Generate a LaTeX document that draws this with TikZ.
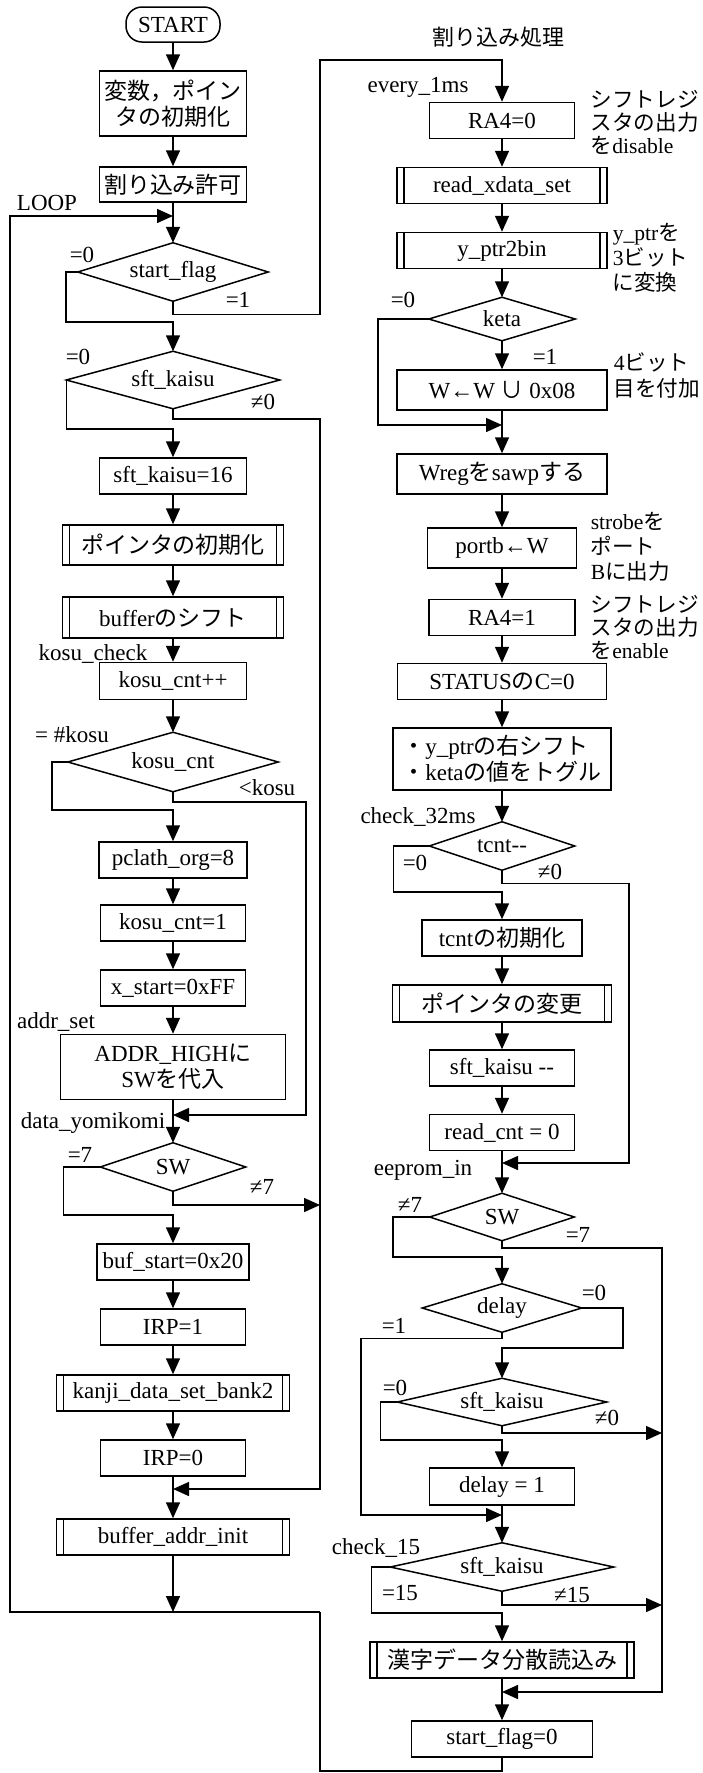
\documentclass[tikz,border=0pt]{standalone}
\usepackage{fontspec}
\setmainfont{Liberation Serif}
\newfontfamily\jpfont{Noto Sans CJK JP}
\newcommand\jp[1]{{\jpfont #1}}
\usetikzlibrary{arrows.meta,calc}
\newcommand\decnode[5]{\node[dtext={#3}{#4}] (#1) at (#2) {#5};
  \draw (#1.north) -- (#1.east) -- (#1.south) -- (#1.west) -- cycle;}
\begin{document}
\begin{tikzpicture}[x=0.5pt,y=-0.5pt,line width=0.75pt,
  base/.style={font=\fontsize{11.5}{13}\selectfont, inner sep=0pt, align=center},
  box/.style 2 args={base, draw, rectangle, minimum width=#1*0.5pt, minimum height=#2*0.5pt},
  subr/.style 2 args={box={#1}{#2}, path picture={
    \draw ([xshift=3.5pt]path picture bounding box.north west) -- ([xshift=3.5pt]path picture bounding box.south west)
          ([xshift=-3.5pt]path picture bounding box.north east) -- ([xshift=-3.5pt]path picture bounding box.south east);}},
  dtext/.style 2 args={base, minimum width=#1*0.5pt, minimum height=#2*0.5pt},
  startbox/.style={box={94}{35}, rounded corners=8pt},
  lbl/.style={base},
  ann/.style={font=\fontsize{10.8}{11.5}\selectfont, inner sep=0pt, align=left, anchor=west},
  arr/.style={-{Triangle[width=7pt,length=8pt]}}]
\useasboundingbox (0,0) rectangle (702,1773);

% ---------------- left column ----------------
\node[startbox] (start) at (173,24.5) {START};
\node[box={147}{65}] (init) at (173,103.5) {\jp{変数，ポイン}\\\jp{タの初期化}};
\node[box={147}{35}] (intr) at (173,184.5) {\jp{割り込み許可}};
\decnode{d1}{173,272}{189}{57}{start\_flag}
\decnode{d2}{173,380}{212}{56}{sft\_kaisu}
\node[box={147}{36}] (b16) at (173,476) {sft\_kaisu=16};
\node[subr={221}{40}] (ptrinit) at (173,545) {\jp{ポインタの初期化}};
\node[subr={221}{41}] (bufsh) at (173,617.5) {buffer\jp{のシフト}};
\node[box={147}{37}] (kinc) at (173,681) {kosu\_cnt++};
\decnode{d3}{173,762}{209}{58}{kosu\_cnt}
\node[box={148}{36}] (pcl) at (173,860) {pclath\_org=8};
\node[box={145}{36}] (k1) at (173,923) {kosu\_cnt=1};
\node[box={145}{36}] (xs) at (173,988) {x\_start=0xFF};
\node[box={225}{65}] (addr) at (173,1067) {ADDR\_HIGH\jp{に}\\SW\jp{を代入}};
\decnode{d4}{173,1167}{144}{47}{SW}
\node[box={152}{36}] (bufst) at (173,1262) {buf\_start=0x20};
\node[box={145}{36}] (irp1) at (173,1327) {IRP=1};
\node[subr={233}{36}] (kanji) at (173,1393) {kanji\_data\_set\_bank2};
\node[box={145}{36}] (irp0) at (173,1458) {IRP=0};
\node[subr={233}{36}] (bai) at (173,1537) {buffer\_addr\_init};

% ---------------- right column ----------------
\node[base, font=\fontsize{11}{13}\selectfont] (title) at (498,37) {\jp{割り込み処理}};
\node[box={145}{36}] (ra0) at (502,120.5) {RA4=0};
\node[subr={210}{36}] (rxs) at (502,185.5) {read\_xdata\_set};
\node[subr={210}{36}] (y2b) at (502,250.5) {y\_ptr2bin};
\decnode{keta}{502,319}{145}{42}{keta}
\node[box={210}{40}] (wor) at (502,390) {W←W \jp{∪} 0x08};
\node[box={210}{40}] (swap) at (502,474) {Wreg\jp{を}sawp\jp{する}};
\node[box={149}{40}] (portb) at (502,548) {portb←W};
\node[box={146}{36}] (ra1) at (502,617.5) {RA4=1};
\node[box={209}{36}] (stat) at (502,681.5) {STATUS\jp{の}C=0};
\node[box={218}{62}, align=left] (shift) at (502,759) {\jp{・}y\_ptr\jp{の右シフト}\\\jp{・}keta\jp{の値をトグル}};
\decnode{tc}{502,846}{144}{47}{tcnt-{}-}
\node[box={160}{36}] (tci) at (502,938) {tcnt\jp{の初期化}};
\node[subr={219}{37}] (ptrch) at (502,1003.5) {\jp{ポインタの変更}};
\node[box={145}{36}] (skd) at (502,1068) {sft\_kaisu -{}-};
\node[box={145}{36}] (rc0) at (502,1132.5) {read\_cnt = 0};
\decnode{sw2}{502,1217}{143}{46}{SW}
\decnode{dly}{502,1308}{158}{47}{delay}
\decnode{sk2}{502,1402}{208}{46}{sft\_kaisu}
\node[box={145}{37}] (dl1) at (502,1486.5) {delay = 1};
\decnode{sk3}{502,1567}{222}{47}{sft\_kaisu}
\node[subr={264}{36}] (kj) at (502,1660) {\jp{漢字データ分散読込み}};
\node[box={181}{36}] (sf0) at (502,1739) {start\_flag=0};

% ---------------- annotations ----------------
\node[ann] (a1) at (590,122) {\jp{シフトレジ}\\\jp{スタの出力}\\\jp{を}disable};
\node[ann, font=\fontsize{10.8}{12.5}\selectfont] (a2) at (612,258) {y\_ptr\jp{を}\\3\jp{ビット}\\\jp{に変換}};
\node[ann, font=\fontsize{10.8}{13}\selectfont] (a3) at (613,375) {4\jp{ビット}\\\jp{目を付加}};
\node[ann, font=\fontsize{10.8}{12.5}\selectfont] (a4) at (590,547) {strobe\jp{を}\\\jp{ポート}\\B\jp{に出力}};
\node[ann] (a5) at (590,627) {\jp{シフトレジ}\\\jp{スタの出力}\\\jp{を}enable};

% ---------------- labels ----------------
\node[lbl] (lloop) at (47,203) {LOOP};
\node[lbl] (l1a) at (82,255) {=0};
\node[lbl] (l1b) at (238,300) {=1};
\node[lbl] (l2a) at (78,357) {=0};
\node[lbl] (l2b) at (263,402) {≠0};
\node[lbl] (lkc) at (93,654) {kosu\_check};
\node[lbl] (l3a) at (72,735) {= \#kosu};
\node[lbl] (l3b) at (267,788) {<kosu};
\node[lbl] (las) at (56,1022) {addr\_set};
\node[lbl] (ldy) at (93,1123) {data\_yomikomi};
\node[lbl] (l4a) at (80,1155) {=7};
\node[lbl] (l4b) at (262,1187) {≠7};
\node[lbl] (le1) at (418,87) {every\_1ms};
\node[lbl] (lka) at (403,300) {=0};
\node[lbl] (lkb) at (545,357) {=1};
\node[lbl] (lc32) at (418,817) {check\_32ms};
\node[lbl] (lta) at (415,863) {=0};
\node[lbl] (ltb) at (550,872) {≠0};
\node[lbl] (lee) at (423,1170) {eeprom\_in};
\node[lbl] (lsa) at (410,1205) {≠7};
\node[lbl] (lsb) at (578,1235) {=7};
\node[lbl] (lda) at (594,1293) {=0};
\node[lbl] (ldb) at (394,1326) {=1};
\node[lbl] (lka2) at (395,1388) {=0};
\node[lbl] (lkb2) at (607,1418) {≠0};
\node[lbl] (lc15) at (376,1548) {check\_15};
\node[lbl] (lfa) at (400,1593) {=15};
\node[lbl] (lfb) at (572,1595) {≠15};

% ---------------- coordinates ----------------
\coordinate (loopj) at (173,216);
\coordinate (loopb) at (10,1612);
\coordinate (retj) at (320,1612);
\coordinate (baij) at (173,1612);
\coordinate (c1) at (173,322);
\coordinate (tr) at (320,60);
\coordinate (c2) at (173,429);
\coordinate (m1) at (173,1489);
\coordinate (m1r) at (320,1489);
\coordinate (c3) at (173,810);
\coordinate (m2) at (173,1115);
\coordinate (m2r) at (306,1115);
\coordinate (c4) at (173,1215);
\coordinate (sw1r) at (320,1205);
\coordinate (c5) at (502,425);
\coordinate (c6) at (502,892);
\coordinate (m3) at (502,1163);
\coordinate (m3r) at (629,1163);
\coordinate (c7) at (502,1257);
\coordinate (m4) at (502,1692);
\coordinate (m4r) at (662,1692);
\coordinate (c8) at (502,1348);
\coordinate (m5) at (502,1515);
\coordinate (m5l) at (361,1515);
\coordinate (c9) at (502,1440);
\coordinate (r1) at (662,1433);
\coordinate (c10) at (502,1613);
\coordinate (r2) at (662,1605);
\coordinate (bot) at (502,1771);

% ---------------- left connectors ----------------
\draw[arr] (start) -- (init);
\draw[arr] (init) -- (intr);
\draw[arr] (intr) -- (d1);
\draw[arr] (retj) -- (loopb) |- (loopj);
\draw[arr] (bai) -- (baij);
\draw (sf0.south) -- (bot) -| (retj);
\draw[arr] (d1.west) -- ++(-12,0) |- (c1) -- (d2.north);
\draw[arr] (d1.south) -- ++(0,13) -| (tr) -| (ra0.north);
\draw[arr] (d2.west) |- (c2) -- (b16.north);
\draw[arr] (d2.south) -- ++(0,10) -| (m1r) -- (m1);
\draw[arr] (b16) -- (ptrinit);
\draw[arr] (ptrinit) -- (bufsh);
\draw[arr] (bufsh) -- (kinc);
\draw[arr] (kinc) -- (d3);
\draw[arr] (d3.west) -- ++(-16,0) |- (c3) -- (pcl.north);
\draw[arr] (d3.south) -- ++(0,10) -| (m2r) -- (m2);
\draw[arr] (pcl) -- (k1);
\draw[arr] (k1) -- (xs);
\draw[arr] (xs) -- (addr);
\draw[arr] (addr) -- (d4);
\draw[arr] (d4.west) -- ++(-37,0) |- (c4) -- (bufst.north);
\draw[arr] (d4.south) |- (sw1r);
\draw[arr] (bufst) -- (irp1);
\draw[arr] (irp1) -- (kanji);
\draw[arr] (kanji) -- (irp0);
\draw[arr] (irp0) -- (bai);

% ---------------- right connectors ----------------
\draw[arr] (ra0) -- (rxs);
\draw[arr] (rxs) -- (y2b);
\draw[arr] (y2b) -- (keta);
\draw[arr] (keta.west) -- ++(-51,0) |- (c5);
\draw[arr] (keta) -- (wor);
\draw[arr] (wor) -- (swap);
\draw[arr] (swap) -- (portb);
\draw[arr] (portb) -- (ra1);
\draw[arr] (ra1) -- (stat);
\draw[arr] (stat) -- (shift);
\draw[arr] (shift) -- (tc);
\draw[arr] (tc.west) -- ++(-36,0) |- (c6) -- (tci.north);
\draw[arr] (tc.south) -- ++(0,13) -| (m3r) -- (m3);
\draw[arr] (tci) -- (ptrch);
\draw[arr] (ptrch) -- (skd);
\draw[arr] (skd) -- (rc0);
\draw[arr] (rc0) -- (sw2);
\draw[arr] (sw2.west) -- ++(-37,0) |- (c7) -- (dly.north);
\draw[arr] (sw2.south) -- ++(0,7) -| (m4r) -- (m4);
\draw[arr] (dly.east) -- ++(41,0) |- (c8) -- (sk2.north);
\draw[arr] (dly.south) -- ++(0,6) -| (m5l) -- (m5);
\draw[arr] (sk2.west) -- ++(-17,0) |- (c9) -- (dl1.north);
\draw[arr] (sk2.south) |- (r1);
\draw[arr] (dl1) -- (sk3);
\draw[arr] (sk3.west) -- ++(-19,0) |- (c10) -- (kj.north);
\draw[arr] (sk3.south) |- (r2);
\draw[arr] (kj) -- (sf0);
\end{tikzpicture}
\end{document}
